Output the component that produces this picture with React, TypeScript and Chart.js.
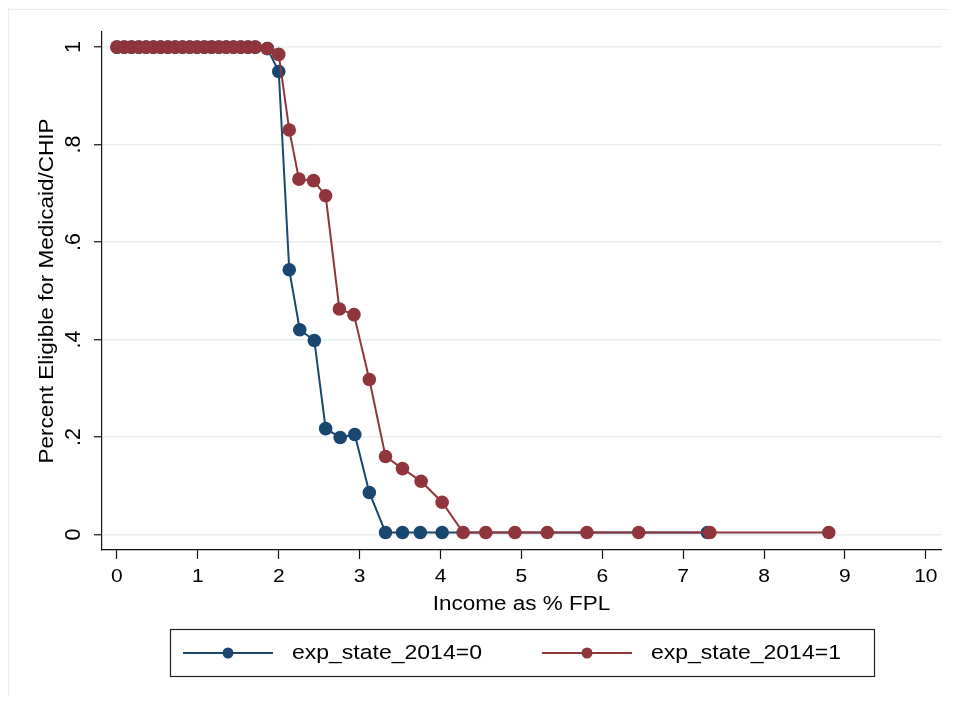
import React, { useEffect, useRef } from "react";
import { Chart, registerables } from "chart.js";

Chart.register(...registerables);

// ---- Data ----
const noExpX = [
  0, 0.09, 0.18, 0.27, 0.36, 0.45, 0.54, 0.63, 0.72, 0.81, 0.9, 0.99, 1.08, 1.17, 1.26, 1.35, 1.44, 1.53, 1.62, 1.71,
  1.86, 2.0, 2.13, 2.26, 2.44, 2.58, 2.76, 2.94, 3.12, 3.32, 3.53, 3.75, 4.02, 7.3,
];
const noExpY = [
  1, 1, 1, 1, 1, 1, 1, 1, 1, 1, 1, 1, 1, 1, 1, 1, 1, 1, 1, 1,
  0.997, 0.95, 0.543, 0.42, 0.398, 0.217, 0.199, 0.205, 0.086, 0.004, 0.004, 0.004, 0.004, 0.004,
];
const expX = [
  0, 0.09, 0.18, 0.27, 0.36, 0.45, 0.54, 0.63, 0.72, 0.81, 0.9, 0.99, 1.08, 1.17, 1.26, 1.35, 1.44, 1.53, 1.62, 1.71,
  1.86, 2.0, 2.13, 2.25, 2.43, 2.58, 2.75, 2.93, 3.12, 3.32, 3.53, 3.76, 4.02, 4.28, 4.56, 4.92, 5.32, 5.81, 6.45, 7.33, 8.8,
];
const expY = [
  1, 1, 1, 1, 1, 1, 1, 1, 1, 1, 1, 1, 1, 1, 1, 1, 1, 1, 1, 1,
  0.997, 0.985, 0.83, 0.729, 0.726, 0.695, 0.4625, 0.451, 0.318, 0.16, 0.135, 0.109, 0.066, 0.004, 0.004, 0.004, 0.004, 0.004, 0.004, 0.004, 0.004,
];

const xTicks = [0, 1, 2, 3, 4, 5, 6, 7, 8, 9, 10];
const xTickLabels = ["0", "1", "2", "3", "4", "5", "6", "7", "8", "9", "10"];
const yTicks = [0, 0.2, 0.4, 0.6, 0.8, 1];
const yTickLabels = ["0", ".2", ".4", ".6", ".8", "1"];

const seriesNames = ["exp_state_2014=0", "exp_state_2014=1"];
const xTitle = "Income as % FPL";
const yTitle = "Percent Eligible for Medicaid/CHIP";

const NAVY = "#1a476f";
const MAROON = "#90353b";
const FONT = '"Liberation Sans", Arial, Helvetica, sans-serif';

function drawText(
  ctx: CanvasRenderingContext2D,
  text: string,
  x: number,
  y: number,
  size: number,
  rot = 0,
  sy = 1,
  align: CanvasTextAlign = "center"
) {
  ctx.save();
  ctx.translate(x, y);
  if (rot) ctx.rotate(rot);
  ctx.scale(1, sy);
  ctx.font = `${size}px ${FONT}`;
  ctx.fillStyle = "#000";
  ctx.textAlign = align;
  ctx.textBaseline = "middle";
  ctx.fillText(text, 0, 0);
  ctx.restore();
}

const textPlugin = {
  id: "stataText",
  afterDraw(chart: any) {
    const ctx: CanvasRenderingContext2D = chart.ctx;
    const xs = chart.scales.x;
    const ys = chart.scales.y;
    const area = chart.chartArea;

    // faint outer frame (top/left)
    ctx.save();
    ctx.strokeStyle = "#ececec";
    ctx.lineWidth = 1;
    ctx.beginPath();
    ctx.moveTo(0, 1.5);
    ctx.lineTo(chart.width, 1.5);
    ctx.moveTo(0.5, 0);
    ctx.lineTo(0.5, chart.height);
    ctx.stroke();
    ctx.restore();

    // x tick labels
    xTicks.forEach((v, i) => {
      drawText(ctx, xTickLabels[i], xs.getPixelForValue(v), area.bottom + 27, 21, 0, 0.9);
    });
    // y tick labels (rotated)
    yTicks.forEach((v, i) => {
      drawText(ctx, yTickLabels[i], area.left - 28, ys.getPixelForValue(v), 21.5, -Math.PI / 2, 1);
    });
    // axis titles
    drawText(ctx, xTitle, (area.left + area.right) / 2, area.bottom + 55, 22.5, 0, 0.88);
    drawText(ctx, yTitle, 39, (area.top + area.bottom) / 2, 22.5, -Math.PI / 2, 0.92);

    // legend
    const bx = 162, by = 621, bw = 704, bh = 47;
    ctx.save();
    ctx.strokeStyle = "#222";
    ctx.lineWidth = 1.2;
    ctx.strokeRect(bx + 0.5, by + 0.5, bw, bh);
    const cy = by + bh / 2 + 0.5;
    const items = [
      { color: chart.data.datasets[1].borderColor, x0: 175, label: seriesNames[0], tx: 284 },
      { color: chart.data.datasets[0].borderColor, x0: 534, label: seriesNames[1], tx: 643 },
    ];
    items.forEach((it) => {
      ctx.strokeStyle = it.color;
      ctx.lineWidth = 2;
      ctx.beginPath();
      ctx.moveTo(it.x0, cy);
      ctx.lineTo(it.x0 + 90, cy);
      ctx.stroke();
      ctx.fillStyle = it.color;
      ctx.beginPath();
      ctx.arc(it.x0 + 45, cy, 5.5, 0, Math.PI * 2);
      ctx.fill();
      drawText(ctx, it.label, it.tx, cy, 23, 0, 0.88, "left");
    });
    ctx.restore();
  },
};

export default function App() {
  const ref = useRef<HTMLCanvasElement | null>(null);

  useEffect(() => {
    if (!ref.current) return;
    const chart = new Chart(ref.current, {
      type: "line",
      data: {
        datasets: [
          {
            label: seriesNames[1],
            data: expX.map((x, i) => ({ x, y: expY[i] })),
            borderColor: MAROON,
            backgroundColor: MAROON,
            pointBackgroundColor: MAROON,
            pointBorderColor: MAROON,
            pointRadius: 6.8,
            pointBorderWidth: 0,
            borderWidth: 2,
            tension: 0,
            order: 0,
          },
          {
            label: seriesNames[0],
            data: noExpX.map((x, i) => ({ x, y: noExpY[i] })),
            borderColor: NAVY,
            backgroundColor: NAVY,
            pointBackgroundColor: NAVY,
            pointBorderColor: NAVY,
            pointRadius: 6.8,
            pointBorderWidth: 0,
            borderWidth: 2,
            tension: 0,
            order: 1,
          },
        ],
      },
      options: {
        responsive: false,
        animation: false,
        devicePixelRatio: 1,
        layout: { padding: { left: 0, top: 24, right: 3, bottom: 0 } },
        plugins: { legend: { display: false }, tooltip: { enabled: false } },
        scales: {
          x: {
            type: "linear",
            min: -0.185,
            max: 10.19,
            afterBuildTicks: (s: any) => {
              s.ticks = xTicks.map((v) => ({ value: v }));
            },
            afterFit: (s: any) => {
              s.height = 146;
            },
            ticks: { display: false },
            grid: { drawOnChartArea: false, drawTicks: true, tickLength: 9, tickColor: "#111", tickWidth: 1.2 },
            border: { display: true, color: "#111", width: 1.2 },
          },
          y: {
            type: "linear",
            min: -0.032,
            max: 1.031,
            afterBuildTicks: (s: any) => {
              s.ticks = yTicks.map((v) => ({ value: v }));
            },
            afterFit: (s: any) => {
              s.width = 94;
            },
            ticks: { display: false },
            grid: { color: "#e6eef0", lineWidth: 1.5, drawTicks: true, tickLength: 8, tickColor: "#111", tickWidth: 1.2 },
            border: { display: true, color: "#111", width: 1.2 },
          },
        },
      },
      plugins: [textPlugin],
    } as any);
    return () => chart.destroy();
  }, []);

  return <canvas ref={ref} width={940} height={688} style={{ display: "block", width: 940, height: 688 }} />;
}
